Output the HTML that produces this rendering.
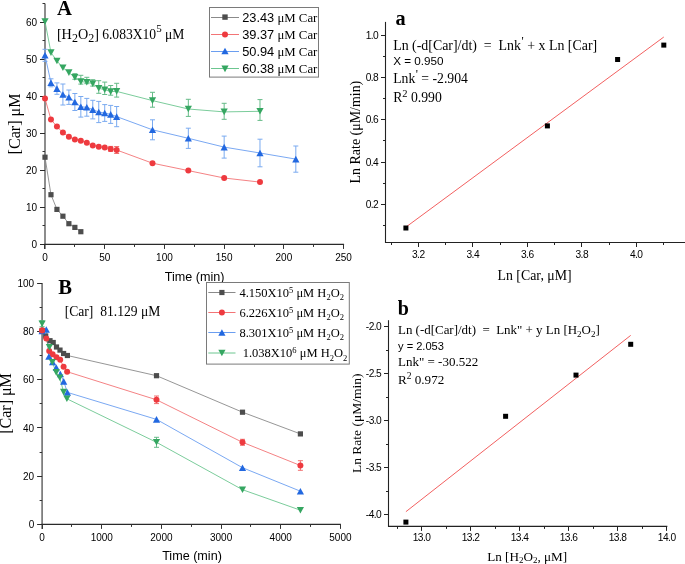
<!DOCTYPE html>
<html><head><meta charset="utf-8"><style>
html,body{margin:0;padding:0;background:#fff;}
body{width:685px;height:564px;overflow:hidden;}
svg{display:block;will-change:transform;}
</style></head><body>
<svg width="685" height="564" viewBox="0 0 685 564">
<rect width="685" height="564" fill="#fff"/>
<line x1="45.00" y1="3.56" x2="45.00" y2="248.95" stroke="#707070" stroke-width="1.6" />
<line x1="44.30" y1="244.45" x2="344.10" y2="244.45" stroke="#2a2a2a" stroke-width="1.2" />
<line x1="40.00" y1="244.50" x2="45.00" y2="244.50" stroke="#2a2a2a" stroke-width="1" />
<text x="37.00" y="248.05" font-size="10" font-family="'Liberation Sans', sans-serif" text-anchor="end" >0</text>
<line x1="40.00" y1="207.50" x2="45.00" y2="207.50" stroke="#2a2a2a" stroke-width="1" />
<text x="37.00" y="210.99" font-size="10" font-family="'Liberation Sans', sans-serif" text-anchor="end" >10</text>
<line x1="40.00" y1="170.50" x2="45.00" y2="170.50" stroke="#2a2a2a" stroke-width="1" />
<text x="37.00" y="173.93" font-size="10" font-family="'Liberation Sans', sans-serif" text-anchor="end" >20</text>
<line x1="40.00" y1="133.50" x2="45.00" y2="133.50" stroke="#2a2a2a" stroke-width="1" />
<text x="37.00" y="136.87" font-size="10" font-family="'Liberation Sans', sans-serif" text-anchor="end" >30</text>
<line x1="40.00" y1="96.50" x2="45.00" y2="96.50" stroke="#2a2a2a" stroke-width="1" />
<text x="37.00" y="99.81" font-size="10" font-family="'Liberation Sans', sans-serif" text-anchor="end" >40</text>
<line x1="40.00" y1="59.50" x2="45.00" y2="59.50" stroke="#2a2a2a" stroke-width="1" />
<text x="37.00" y="62.75" font-size="10" font-family="'Liberation Sans', sans-serif" text-anchor="end" >50</text>
<line x1="40.00" y1="22.50" x2="45.00" y2="22.50" stroke="#2a2a2a" stroke-width="1" />
<text x="37.00" y="25.69" font-size="10" font-family="'Liberation Sans', sans-serif" text-anchor="end" >60</text>
<line x1="42.50" y1="225.50" x2="45.00" y2="225.50" stroke="#333" stroke-width="1" />
<line x1="42.50" y1="188.50" x2="45.00" y2="188.50" stroke="#333" stroke-width="1" />
<line x1="42.50" y1="151.50" x2="45.00" y2="151.50" stroke="#333" stroke-width="1" />
<line x1="42.50" y1="114.50" x2="45.00" y2="114.50" stroke="#333" stroke-width="1" />
<line x1="42.50" y1="77.50" x2="45.00" y2="77.50" stroke="#333" stroke-width="1" />
<line x1="42.50" y1="40.50" x2="45.00" y2="40.50" stroke="#333" stroke-width="1" />
<line x1="42.50" y1="3.50" x2="45.00" y2="3.50" stroke="#333" stroke-width="1" />
<line x1="44.50" y1="244.45" x2="44.50" y2="248.95" stroke="#333" stroke-width="1" />
<text x="45.00" y="261.20" font-size="10" font-family="'Liberation Sans', sans-serif" text-anchor="middle" >0</text>
<line x1="104.50" y1="244.45" x2="104.50" y2="248.95" stroke="#333" stroke-width="1" />
<text x="104.72" y="261.20" font-size="10" font-family="'Liberation Sans', sans-serif" text-anchor="middle" >50</text>
<line x1="164.50" y1="244.45" x2="164.50" y2="248.95" stroke="#333" stroke-width="1" />
<text x="164.44" y="261.20" font-size="10" font-family="'Liberation Sans', sans-serif" text-anchor="middle" >100</text>
<line x1="224.50" y1="244.45" x2="224.50" y2="248.95" stroke="#333" stroke-width="1" />
<text x="224.16" y="261.20" font-size="10" font-family="'Liberation Sans', sans-serif" text-anchor="middle" >150</text>
<line x1="283.50" y1="244.45" x2="283.50" y2="248.95" stroke="#333" stroke-width="1" />
<text x="283.88" y="261.20" font-size="10" font-family="'Liberation Sans', sans-serif" text-anchor="middle" >200</text>
<line x1="343.50" y1="244.45" x2="343.50" y2="248.95" stroke="#333" stroke-width="1" />
<text x="343.60" y="261.20" font-size="10" font-family="'Liberation Sans', sans-serif" text-anchor="middle" >250</text>
<line x1="74.50" y1="244.45" x2="74.50" y2="246.95" stroke="#333" stroke-width="1" />
<line x1="134.50" y1="244.45" x2="134.50" y2="246.95" stroke="#333" stroke-width="1" />
<line x1="194.50" y1="244.45" x2="194.50" y2="246.95" stroke="#333" stroke-width="1" />
<line x1="254.50" y1="244.45" x2="254.50" y2="246.95" stroke="#333" stroke-width="1" />
<line x1="313.50" y1="244.45" x2="313.50" y2="246.95" stroke="#333" stroke-width="1" />
<line x1="45.00" y1="49.30" x2="45.00" y2="61.30" stroke="#7aaaf0" stroke-width="1" />
<line x1="42.50" y1="49.30" x2="47.50" y2="49.30" stroke="#7aaaf0" stroke-width="1" />
<line x1="42.50" y1="61.30" x2="47.50" y2="61.30" stroke="#7aaaf0" stroke-width="1" />
<line x1="50.97" y1="78.80" x2="50.97" y2="86.80" stroke="#7aaaf0" stroke-width="1" />
<line x1="48.47" y1="78.80" x2="53.47" y2="78.80" stroke="#7aaaf0" stroke-width="1" />
<line x1="48.47" y1="86.80" x2="53.47" y2="86.80" stroke="#7aaaf0" stroke-width="1" />
<line x1="56.94" y1="82.90" x2="56.94" y2="94.30" stroke="#7aaaf0" stroke-width="1" />
<line x1="54.44" y1="82.90" x2="59.44" y2="82.90" stroke="#7aaaf0" stroke-width="1" />
<line x1="54.44" y1="94.30" x2="59.44" y2="94.30" stroke="#7aaaf0" stroke-width="1" />
<line x1="62.92" y1="84.00" x2="62.92" y2="105.00" stroke="#7aaaf0" stroke-width="1" />
<line x1="60.42" y1="84.00" x2="65.42" y2="84.00" stroke="#7aaaf0" stroke-width="1" />
<line x1="60.42" y1="105.00" x2="65.42" y2="105.00" stroke="#7aaaf0" stroke-width="1" />
<line x1="68.89" y1="90.00" x2="68.89" y2="104.40" stroke="#7aaaf0" stroke-width="1" />
<line x1="66.39" y1="90.00" x2="71.39" y2="90.00" stroke="#7aaaf0" stroke-width="1" />
<line x1="66.39" y1="104.40" x2="71.39" y2="104.40" stroke="#7aaaf0" stroke-width="1" />
<line x1="74.86" y1="93.50" x2="74.86" y2="110.50" stroke="#7aaaf0" stroke-width="1" />
<line x1="72.36" y1="93.50" x2="77.36" y2="93.50" stroke="#7aaaf0" stroke-width="1" />
<line x1="72.36" y1="110.50" x2="77.36" y2="110.50" stroke="#7aaaf0" stroke-width="1" />
<line x1="80.83" y1="96.50" x2="80.83" y2="117.10" stroke="#7aaaf0" stroke-width="1" />
<line x1="78.33" y1="96.50" x2="83.33" y2="96.50" stroke="#7aaaf0" stroke-width="1" />
<line x1="78.33" y1="117.10" x2="83.33" y2="117.10" stroke="#7aaaf0" stroke-width="1" />
<line x1="86.80" y1="98.40" x2="86.80" y2="116.20" stroke="#7aaaf0" stroke-width="1" />
<line x1="84.30" y1="98.40" x2="89.30" y2="98.40" stroke="#7aaaf0" stroke-width="1" />
<line x1="84.30" y1="116.20" x2="89.30" y2="116.20" stroke="#7aaaf0" stroke-width="1" />
<line x1="92.78" y1="100.30" x2="92.78" y2="118.90" stroke="#7aaaf0" stroke-width="1" />
<line x1="90.28" y1="100.30" x2="95.28" y2="100.30" stroke="#7aaaf0" stroke-width="1" />
<line x1="90.28" y1="118.90" x2="95.28" y2="118.90" stroke="#7aaaf0" stroke-width="1" />
<line x1="98.75" y1="101.40" x2="98.75" y2="122.60" stroke="#7aaaf0" stroke-width="1" />
<line x1="96.25" y1="101.40" x2="101.25" y2="101.40" stroke="#7aaaf0" stroke-width="1" />
<line x1="96.25" y1="122.60" x2="101.25" y2="122.60" stroke="#7aaaf0" stroke-width="1" />
<line x1="104.72" y1="104.60" x2="104.72" y2="121.40" stroke="#7aaaf0" stroke-width="1" />
<line x1="102.22" y1="104.60" x2="107.22" y2="104.60" stroke="#7aaaf0" stroke-width="1" />
<line x1="102.22" y1="121.40" x2="107.22" y2="121.40" stroke="#7aaaf0" stroke-width="1" />
<line x1="110.69" y1="105.40" x2="110.69" y2="123.40" stroke="#7aaaf0" stroke-width="1" />
<line x1="108.19" y1="105.40" x2="113.19" y2="105.40" stroke="#7aaaf0" stroke-width="1" />
<line x1="108.19" y1="123.40" x2="113.19" y2="123.40" stroke="#7aaaf0" stroke-width="1" />
<line x1="116.66" y1="106.50" x2="116.66" y2="126.70" stroke="#7aaaf0" stroke-width="1" />
<line x1="114.16" y1="106.50" x2="119.16" y2="106.50" stroke="#7aaaf0" stroke-width="1" />
<line x1="114.16" y1="126.70" x2="119.16" y2="126.70" stroke="#7aaaf0" stroke-width="1" />
<line x1="152.50" y1="119.80" x2="152.50" y2="139.80" stroke="#7aaaf0" stroke-width="1" />
<line x1="150.00" y1="119.80" x2="155.00" y2="119.80" stroke="#7aaaf0" stroke-width="1" />
<line x1="150.00" y1="139.80" x2="155.00" y2="139.80" stroke="#7aaaf0" stroke-width="1" />
<line x1="188.33" y1="128.20" x2="188.33" y2="148.40" stroke="#7aaaf0" stroke-width="1" />
<line x1="185.83" y1="128.20" x2="190.83" y2="128.20" stroke="#7aaaf0" stroke-width="1" />
<line x1="185.83" y1="148.40" x2="190.83" y2="148.40" stroke="#7aaaf0" stroke-width="1" />
<line x1="224.16" y1="136.10" x2="224.16" y2="158.10" stroke="#7aaaf0" stroke-width="1" />
<line x1="221.66" y1="136.10" x2="226.66" y2="136.10" stroke="#7aaaf0" stroke-width="1" />
<line x1="221.66" y1="158.10" x2="226.66" y2="158.10" stroke="#7aaaf0" stroke-width="1" />
<line x1="259.99" y1="139.20" x2="259.99" y2="166.80" stroke="#7aaaf0" stroke-width="1" />
<line x1="257.49" y1="139.20" x2="262.49" y2="139.20" stroke="#7aaaf0" stroke-width="1" />
<line x1="257.49" y1="166.80" x2="262.49" y2="166.80" stroke="#7aaaf0" stroke-width="1" />
<line x1="295.82" y1="146.00" x2="295.82" y2="172.20" stroke="#7aaaf0" stroke-width="1" />
<line x1="293.32" y1="146.00" x2="298.32" y2="146.00" stroke="#7aaaf0" stroke-width="1" />
<line x1="293.32" y1="172.20" x2="298.32" y2="172.20" stroke="#7aaaf0" stroke-width="1" />
<line x1="74.86" y1="73.65" x2="74.86" y2="79.30" stroke="#66bb88" stroke-width="1" />
<line x1="72.36" y1="73.65" x2="77.36" y2="73.65" stroke="#66bb88" stroke-width="1" />
<line x1="72.36" y1="79.30" x2="77.36" y2="79.30" stroke="#66bb88" stroke-width="1" />
<line x1="80.83" y1="75.30" x2="80.83" y2="84.10" stroke="#66bb88" stroke-width="1" />
<line x1="78.33" y1="75.30" x2="83.33" y2="75.30" stroke="#66bb88" stroke-width="1" />
<line x1="78.33" y1="84.10" x2="83.33" y2="84.10" stroke="#66bb88" stroke-width="1" />
<line x1="86.80" y1="77.30" x2="86.80" y2="83.70" stroke="#66bb88" stroke-width="1" />
<line x1="84.30" y1="77.30" x2="89.30" y2="77.30" stroke="#66bb88" stroke-width="1" />
<line x1="84.30" y1="83.70" x2="89.30" y2="83.70" stroke="#66bb88" stroke-width="1" />
<line x1="92.78" y1="79.70" x2="92.78" y2="86.10" stroke="#66bb88" stroke-width="1" />
<line x1="90.28" y1="79.70" x2="95.28" y2="79.70" stroke="#66bb88" stroke-width="1" />
<line x1="90.28" y1="86.10" x2="95.28" y2="86.10" stroke="#66bb88" stroke-width="1" />
<line x1="98.75" y1="80.70" x2="98.75" y2="93.30" stroke="#66bb88" stroke-width="1" />
<line x1="96.25" y1="80.70" x2="101.25" y2="80.70" stroke="#66bb88" stroke-width="1" />
<line x1="96.25" y1="93.30" x2="101.25" y2="93.30" stroke="#66bb88" stroke-width="1" />
<line x1="104.72" y1="82.10" x2="104.72" y2="94.50" stroke="#66bb88" stroke-width="1" />
<line x1="102.22" y1="82.10" x2="107.22" y2="82.10" stroke="#66bb88" stroke-width="1" />
<line x1="102.22" y1="94.50" x2="107.22" y2="94.50" stroke="#66bb88" stroke-width="1" />
<line x1="110.69" y1="85.50" x2="110.69" y2="95.20" stroke="#66bb88" stroke-width="1" />
<line x1="108.19" y1="85.50" x2="113.19" y2="85.50" stroke="#66bb88" stroke-width="1" />
<line x1="108.19" y1="95.20" x2="113.19" y2="95.20" stroke="#66bb88" stroke-width="1" />
<line x1="116.66" y1="83.30" x2="116.66" y2="97.10" stroke="#66bb88" stroke-width="1" />
<line x1="114.16" y1="83.30" x2="119.16" y2="83.30" stroke="#66bb88" stroke-width="1" />
<line x1="114.16" y1="97.10" x2="119.16" y2="97.10" stroke="#66bb88" stroke-width="1" />
<line x1="152.50" y1="92.30" x2="152.50" y2="107.20" stroke="#66bb88" stroke-width="1" />
<line x1="150.00" y1="92.30" x2="155.00" y2="92.30" stroke="#66bb88" stroke-width="1" />
<line x1="150.00" y1="107.20" x2="155.00" y2="107.20" stroke="#66bb88" stroke-width="1" />
<line x1="188.33" y1="99.30" x2="188.33" y2="116.40" stroke="#66bb88" stroke-width="1" />
<line x1="185.83" y1="99.30" x2="190.83" y2="99.30" stroke="#66bb88" stroke-width="1" />
<line x1="185.83" y1="116.40" x2="190.83" y2="116.40" stroke="#66bb88" stroke-width="1" />
<line x1="224.16" y1="103.30" x2="224.16" y2="119.30" stroke="#66bb88" stroke-width="1" />
<line x1="221.66" y1="103.30" x2="226.66" y2="103.30" stroke="#66bb88" stroke-width="1" />
<line x1="221.66" y1="119.30" x2="226.66" y2="119.30" stroke="#66bb88" stroke-width="1" />
<line x1="259.99" y1="99.60" x2="259.99" y2="120.40" stroke="#66bb88" stroke-width="1" />
<line x1="257.49" y1="99.60" x2="262.49" y2="99.60" stroke="#66bb88" stroke-width="1" />
<line x1="257.49" y1="120.40" x2="262.49" y2="120.40" stroke="#66bb88" stroke-width="1" />
<line x1="110.69" y1="146.40" x2="110.69" y2="151.40" stroke="#f07070" stroke-width="1" />
<line x1="108.19" y1="146.40" x2="113.19" y2="146.40" stroke="#f07070" stroke-width="1" />
<line x1="108.19" y1="151.40" x2="113.19" y2="151.40" stroke="#f07070" stroke-width="1" />
<line x1="116.66" y1="146.50" x2="116.66" y2="153.50" stroke="#f07070" stroke-width="1" />
<line x1="114.16" y1="146.50" x2="119.16" y2="146.50" stroke="#f07070" stroke-width="1" />
<line x1="114.16" y1="153.50" x2="119.16" y2="153.50" stroke="#f07070" stroke-width="1" />
<polyline points="45.00,157.20 50.97,194.70 56.94,209.40 62.92,216.20 68.89,223.70 74.86,227.40 80.83,231.70" fill="none" stroke="#8a8a8a" stroke-width="0.9"/>
<polyline points="45.00,98.50 50.97,119.50 56.94,126.60 62.92,132.60 68.89,136.80 74.86,139.40 80.83,140.80 86.80,142.80 92.78,145.40 98.75,146.80 104.72,147.50 110.69,148.90 116.66,150.00 152.50,163.20 188.33,170.60 224.16,178.00 259.99,182.10" fill="none" stroke="#f37476" stroke-width="0.9"/>
<polyline points="45.00,55.30 50.97,82.80 56.94,88.60 62.92,94.50 68.89,97.20 74.86,102.00 80.83,106.80 86.80,107.30 92.78,109.60 98.75,112.00 104.72,113.00 110.69,114.40 116.66,116.60 152.50,129.80 188.33,138.30 224.16,147.10 259.99,153.00 295.82,159.10" fill="none" stroke="#6b9ef0" stroke-width="0.9"/>
<polyline points="45.00,21.50 50.97,52.60 56.94,60.95 62.92,67.70 68.89,72.60 74.86,77.40 80.83,81.60 86.80,82.30 92.78,83.60 98.75,88.30 104.72,89.70 110.69,91.60 116.66,91.40 152.50,100.60 188.33,109.00 224.16,111.90 259.99,111.30" fill="none" stroke="#6cc690" stroke-width="0.9"/>
<rect x="42.40" y="154.60" width="5.2" height="5.2" fill="#4d4d4d"/>
<rect x="48.37" y="192.10" width="5.2" height="5.2" fill="#4d4d4d"/>
<rect x="54.34" y="206.80" width="5.2" height="5.2" fill="#4d4d4d"/>
<rect x="60.32" y="213.60" width="5.2" height="5.2" fill="#4d4d4d"/>
<rect x="66.29" y="221.10" width="5.2" height="5.2" fill="#4d4d4d"/>
<rect x="72.26" y="224.80" width="5.2" height="5.2" fill="#4d4d4d"/>
<rect x="78.23" y="229.10" width="5.2" height="5.2" fill="#4d4d4d"/>
<circle cx="45.00" cy="98.50" r="3" fill="#ee3a3f"/>
<circle cx="50.97" cy="119.50" r="3" fill="#ee3a3f"/>
<circle cx="56.94" cy="126.60" r="3" fill="#ee3a3f"/>
<circle cx="62.92" cy="132.60" r="3" fill="#ee3a3f"/>
<circle cx="68.89" cy="136.80" r="3" fill="#ee3a3f"/>
<circle cx="74.86" cy="139.40" r="3" fill="#ee3a3f"/>
<circle cx="80.83" cy="140.80" r="3" fill="#ee3a3f"/>
<circle cx="86.80" cy="142.80" r="3" fill="#ee3a3f"/>
<circle cx="92.78" cy="145.40" r="3" fill="#ee3a3f"/>
<circle cx="98.75" cy="146.80" r="3" fill="#ee3a3f"/>
<circle cx="104.72" cy="147.50" r="3" fill="#ee3a3f"/>
<circle cx="110.69" cy="148.90" r="3" fill="#ee3a3f"/>
<circle cx="116.66" cy="150.00" r="3" fill="#ee3a3f"/>
<circle cx="152.50" cy="163.20" r="3" fill="#ee3a3f"/>
<circle cx="188.33" cy="170.60" r="3" fill="#ee3a3f"/>
<circle cx="224.16" cy="178.00" r="3" fill="#ee3a3f"/>
<circle cx="259.99" cy="182.10" r="3" fill="#ee3a3f"/>
<polygon points="41.40,58.60 48.60,58.60 45.00,52.00" fill="#2268e0"/>
<polygon points="47.37,86.10 54.57,86.10 50.97,79.50" fill="#2268e0"/>
<polygon points="53.34,91.90 60.54,91.90 56.94,85.30" fill="#2268e0"/>
<polygon points="59.32,97.80 66.52,97.80 62.92,91.20" fill="#2268e0"/>
<polygon points="65.29,100.50 72.49,100.50 68.89,93.90" fill="#2268e0"/>
<polygon points="71.26,105.30 78.46,105.30 74.86,98.70" fill="#2268e0"/>
<polygon points="77.23,110.10 84.43,110.10 80.83,103.50" fill="#2268e0"/>
<polygon points="83.20,110.60 90.40,110.60 86.80,104.00" fill="#2268e0"/>
<polygon points="89.18,112.90 96.38,112.90 92.78,106.30" fill="#2268e0"/>
<polygon points="95.15,115.30 102.35,115.30 98.75,108.70" fill="#2268e0"/>
<polygon points="101.12,116.30 108.32,116.30 104.72,109.70" fill="#2268e0"/>
<polygon points="107.09,117.70 114.29,117.70 110.69,111.10" fill="#2268e0"/>
<polygon points="113.06,119.90 120.26,119.90 116.66,113.30" fill="#2268e0"/>
<polygon points="148.90,133.10 156.10,133.10 152.50,126.50" fill="#2268e0"/>
<polygon points="184.73,141.60 191.93,141.60 188.33,135.00" fill="#2268e0"/>
<polygon points="220.56,150.40 227.76,150.40 224.16,143.80" fill="#2268e0"/>
<polygon points="256.39,156.30 263.59,156.30 259.99,149.70" fill="#2268e0"/>
<polygon points="292.22,162.40 299.42,162.40 295.82,155.80" fill="#2268e0"/>
<polygon points="41.40,18.20 48.60,18.20 45.00,24.80" fill="#35a661"/>
<polygon points="47.37,49.30 54.57,49.30 50.97,55.90" fill="#35a661"/>
<polygon points="53.34,57.65 60.54,57.65 56.94,64.25" fill="#35a661"/>
<polygon points="59.32,64.40 66.52,64.40 62.92,71.00" fill="#35a661"/>
<polygon points="65.29,69.30 72.49,69.30 68.89,75.90" fill="#35a661"/>
<polygon points="71.26,74.10 78.46,74.10 74.86,80.70" fill="#35a661"/>
<polygon points="77.23,78.30 84.43,78.30 80.83,84.90" fill="#35a661"/>
<polygon points="83.20,79.00 90.40,79.00 86.80,85.60" fill="#35a661"/>
<polygon points="89.18,80.30 96.38,80.30 92.78,86.90" fill="#35a661"/>
<polygon points="95.15,85.00 102.35,85.00 98.75,91.60" fill="#35a661"/>
<polygon points="101.12,86.40 108.32,86.40 104.72,93.00" fill="#35a661"/>
<polygon points="107.09,88.30 114.29,88.30 110.69,94.90" fill="#35a661"/>
<polygon points="113.06,88.10 120.26,88.10 116.66,94.70" fill="#35a661"/>
<polygon points="148.90,97.30 156.10,97.30 152.50,103.90" fill="#35a661"/>
<polygon points="184.73,105.70 191.93,105.70 188.33,112.30" fill="#35a661"/>
<polygon points="220.56,108.60 227.76,108.60 224.16,115.20" fill="#35a661"/>
<polygon points="256.39,108.00 263.59,108.00 259.99,114.60" fill="#35a661"/>
<text x="194.70" y="280.50" font-size="12.6" font-family="'Liberation Sans', sans-serif" text-anchor="middle" >Time (min)</text>
<text transform="translate(19.6,124) rotate(-90)" font-size="16.1" font-family="'Liberation Serif', serif" text-anchor="middle">[Car] μM</text>
<text x="57.10" y="15.00" font-size="20.7" font-family="'Liberation Serif', serif" text-anchor="start" font-weight="bold">A</text>
<text x="56.9" y="39.2" font-size="14.2" font-family="'Liberation Serif', serif">[H<tspan font-size="12" dy="2.6">2</tspan><tspan dy="-2.6">O</tspan><tspan font-size="12" dy="2.6">2</tspan><tspan dy="-2.6">]</tspan><tspan dx="3.3" font-size="13.6" dy="-0.3">6.083X10</tspan><tspan font-size="11" dy="-7.3">5</tspan><tspan dy="7.3" font-size="13.6"> μM</tspan></text>
<rect x="209.5" y="7.5" width="109" height="69.6" fill="white" stroke="#7a7a7a" stroke-width="1"/>
<line x1="211.00" y1="17.50" x2="239.00" y2="17.50" stroke="#8a8a8a" stroke-width="1" />
<rect x="222.30" y="14.40" width="5.4" height="5.4" fill="#4d4d4d"/>
<text x="242.2" y="21.80" font-size="12.8" font-family="'Liberation Sans', sans-serif">23.43<tspan font-family="'Liberation Serif', serif"> μM Car</tspan></text>
<line x1="211.00" y1="34.50" x2="239.00" y2="34.50" stroke="#f37476" stroke-width="1" />
<circle cx="225.00" cy="34.50" r="3" fill="#ee3a3f"/>
<text x="242.2" y="38.80" font-size="12.8" font-family="'Liberation Sans', sans-serif">39.37<tspan font-family="'Liberation Serif', serif"> μM Car</tspan></text>
<line x1="211.00" y1="51.50" x2="239.00" y2="51.50" stroke="#6b9ef0" stroke-width="1" />
<polygon points="221.40,54.30 228.60,54.30 225.00,47.70" fill="#2268e0"/>
<text x="242.2" y="55.80" font-size="12.8" font-family="'Liberation Sans', sans-serif">50.94<tspan font-family="'Liberation Serif', serif"> μM Car</tspan></text>
<line x1="211.00" y1="68.50" x2="239.00" y2="68.50" stroke="#6cc690" stroke-width="1" />
<polygon points="221.40,65.60 228.60,65.60 225.00,72.20" fill="#35a661"/>
<text x="242.2" y="72.80" font-size="12.8" font-family="'Liberation Sans', sans-serif">60.38<tspan font-family="'Liberation Serif', serif"> μM Car</tspan></text>
<line x1="42.10" y1="283.10" x2="42.10" y2="528.90" stroke="#707070" stroke-width="1.6" />
<line x1="41.40" y1="524.40" x2="340.90" y2="524.40" stroke="#2a2a2a" stroke-width="1.2" />
<line x1="37.10" y1="524.50" x2="42.10" y2="524.50" stroke="#2a2a2a" stroke-width="1" />
<text x="34.20" y="528.20" font-size="10" font-family="'Liberation Sans', sans-serif" text-anchor="end" >0</text>
<line x1="37.10" y1="476.50" x2="42.10" y2="476.50" stroke="#2a2a2a" stroke-width="1" />
<text x="34.20" y="479.94" font-size="10" font-family="'Liberation Sans', sans-serif" text-anchor="end" >20</text>
<line x1="37.10" y1="427.50" x2="42.10" y2="427.50" stroke="#2a2a2a" stroke-width="1" />
<text x="34.20" y="431.68" font-size="10" font-family="'Liberation Sans', sans-serif" text-anchor="end" >40</text>
<line x1="37.10" y1="379.50" x2="42.10" y2="379.50" stroke="#2a2a2a" stroke-width="1" />
<text x="34.20" y="383.42" font-size="10" font-family="'Liberation Sans', sans-serif" text-anchor="end" >60</text>
<line x1="37.10" y1="331.50" x2="42.10" y2="331.50" stroke="#2a2a2a" stroke-width="1" />
<text x="34.20" y="335.16" font-size="10" font-family="'Liberation Sans', sans-serif" text-anchor="end" >80</text>
<line x1="37.10" y1="283.50" x2="42.10" y2="283.50" stroke="#2a2a2a" stroke-width="1" />
<text x="34.20" y="286.90" font-size="10" font-family="'Liberation Sans', sans-serif" text-anchor="end" >100</text>
<line x1="39.60" y1="500.50" x2="42.10" y2="500.50" stroke="#333" stroke-width="1" />
<line x1="39.60" y1="452.50" x2="42.10" y2="452.50" stroke="#333" stroke-width="1" />
<line x1="39.60" y1="403.50" x2="42.10" y2="403.50" stroke="#333" stroke-width="1" />
<line x1="39.60" y1="355.50" x2="42.10" y2="355.50" stroke="#333" stroke-width="1" />
<line x1="39.60" y1="307.50" x2="42.10" y2="307.50" stroke="#333" stroke-width="1" />
<line x1="42.50" y1="524.40" x2="42.50" y2="528.90" stroke="#333" stroke-width="1" />
<text x="42.10" y="540.60" font-size="10" font-family="'Liberation Sans', sans-serif" text-anchor="middle" >0</text>
<line x1="101.50" y1="524.40" x2="101.50" y2="528.90" stroke="#333" stroke-width="1" />
<text x="101.76" y="540.60" font-size="10" font-family="'Liberation Sans', sans-serif" text-anchor="middle" >1000</text>
<line x1="161.50" y1="524.40" x2="161.50" y2="528.90" stroke="#333" stroke-width="1" />
<text x="161.42" y="540.60" font-size="10" font-family="'Liberation Sans', sans-serif" text-anchor="middle" >2000</text>
<line x1="221.50" y1="524.40" x2="221.50" y2="528.90" stroke="#333" stroke-width="1" />
<text x="221.08" y="540.60" font-size="10" font-family="'Liberation Sans', sans-serif" text-anchor="middle" >3000</text>
<line x1="280.50" y1="524.40" x2="280.50" y2="528.90" stroke="#333" stroke-width="1" />
<text x="280.74" y="540.60" font-size="10" font-family="'Liberation Sans', sans-serif" text-anchor="middle" >4000</text>
<line x1="340.50" y1="524.40" x2="340.50" y2="528.90" stroke="#333" stroke-width="1" />
<text x="340.40" y="540.60" font-size="10" font-family="'Liberation Sans', sans-serif" text-anchor="middle" >5000</text>
<line x1="71.50" y1="524.40" x2="71.50" y2="526.90" stroke="#333" stroke-width="1" />
<line x1="131.50" y1="524.40" x2="131.50" y2="526.90" stroke="#333" stroke-width="1" />
<line x1="191.50" y1="524.40" x2="191.50" y2="526.90" stroke="#333" stroke-width="1" />
<line x1="250.50" y1="524.40" x2="250.50" y2="526.90" stroke="#333" stroke-width="1" />
<line x1="310.50" y1="524.40" x2="310.50" y2="526.90" stroke="#333" stroke-width="1" />
<line x1="42.10" y1="329.50" x2="42.10" y2="331.50" stroke="#f07070" stroke-width="1" />
<line x1="39.60" y1="329.50" x2="44.60" y2="329.50" stroke="#f07070" stroke-width="1" />
<line x1="39.60" y1="331.50" x2="44.60" y2="331.50" stroke="#f07070" stroke-width="1" />
<line x1="156.50" y1="396.00" x2="156.50" y2="403.60" stroke="#f07070" stroke-width="1" />
<line x1="154.00" y1="396.00" x2="159.00" y2="396.00" stroke="#f07070" stroke-width="1" />
<line x1="154.00" y1="403.60" x2="159.00" y2="403.60" stroke="#f07070" stroke-width="1" />
<line x1="242.50" y1="439.30" x2="242.50" y2="445.30" stroke="#f07070" stroke-width="1" />
<line x1="240.00" y1="439.30" x2="245.00" y2="439.30" stroke="#f07070" stroke-width="1" />
<line x1="240.00" y1="445.30" x2="245.00" y2="445.30" stroke="#f07070" stroke-width="1" />
<line x1="300.40" y1="460.70" x2="300.40" y2="470.30" stroke="#f07070" stroke-width="1" />
<line x1="297.90" y1="460.70" x2="302.90" y2="460.70" stroke="#f07070" stroke-width="1" />
<line x1="297.90" y1="470.30" x2="302.90" y2="470.30" stroke="#f07070" stroke-width="1" />
<line x1="42.10" y1="320.70" x2="42.10" y2="326.70" stroke="#66bb88" stroke-width="1" />
<line x1="39.60" y1="320.70" x2="44.60" y2="320.70" stroke="#66bb88" stroke-width="1" />
<line x1="39.60" y1="326.70" x2="44.60" y2="326.70" stroke="#66bb88" stroke-width="1" />
<line x1="156.50" y1="437.30" x2="156.50" y2="447.30" stroke="#66bb88" stroke-width="1" />
<line x1="154.00" y1="437.30" x2="159.00" y2="437.30" stroke="#66bb88" stroke-width="1" />
<line x1="154.00" y1="447.30" x2="159.00" y2="447.30" stroke="#66bb88" stroke-width="1" />
<polyline points="42.10,330.50 45.70,336.00 50.00,340.70 53.20,342.50 56.50,347.00 60.00,350.10 63.60,353.50 67.40,355.50 156.50,375.70 242.50,412.20 300.40,433.90" fill="none" stroke="#8a8a8a" stroke-width="0.9"/>
<polyline points="42.10,330.50 46.30,338.50 49.20,351.00 52.60,354.20 56.50,357.20 60.20,359.70 63.60,366.70 67.10,371.70 156.50,399.80 242.50,442.30 300.40,465.50" fill="none" stroke="#f37476" stroke-width="0.9"/>
<polyline points="42.10,331.00 46.30,329.50 48.90,356.50 52.60,362.00 56.30,367.50 60.40,374.00 63.70,381.40 67.40,392.40 156.50,419.40 242.50,467.70 300.40,491.20" fill="none" stroke="#6b9ef0" stroke-width="0.9"/>
<polyline points="42.10,323.70 46.00,339.00 49.40,347.30 52.30,362.30 56.20,372.40 59.80,377.80 63.60,392.10 66.90,398.80 156.50,442.30 242.50,489.70 300.40,510.20" fill="none" stroke="#6cc690" stroke-width="0.9"/>
<rect x="39.50" y="327.90" width="5.2" height="5.2" fill="#4d4d4d"/>
<rect x="43.10" y="333.40" width="5.2" height="5.2" fill="#4d4d4d"/>
<rect x="47.40" y="338.10" width="5.2" height="5.2" fill="#4d4d4d"/>
<rect x="50.60" y="339.90" width="5.2" height="5.2" fill="#4d4d4d"/>
<rect x="53.90" y="344.40" width="5.2" height="5.2" fill="#4d4d4d"/>
<rect x="57.40" y="347.50" width="5.2" height="5.2" fill="#4d4d4d"/>
<rect x="61.00" y="350.90" width="5.2" height="5.2" fill="#4d4d4d"/>
<rect x="64.80" y="352.90" width="5.2" height="5.2" fill="#4d4d4d"/>
<rect x="153.90" y="373.10" width="5.2" height="5.2" fill="#4d4d4d"/>
<rect x="239.90" y="409.60" width="5.2" height="5.2" fill="#4d4d4d"/>
<rect x="297.80" y="431.30" width="5.2" height="5.2" fill="#4d4d4d"/>
<circle cx="42.10" cy="330.50" r="3" fill="#ee3a3f"/>
<circle cx="46.30" cy="338.50" r="3" fill="#ee3a3f"/>
<circle cx="49.20" cy="351.00" r="3" fill="#ee3a3f"/>
<circle cx="52.60" cy="354.20" r="3" fill="#ee3a3f"/>
<circle cx="56.50" cy="357.20" r="3" fill="#ee3a3f"/>
<circle cx="60.20" cy="359.70" r="3" fill="#ee3a3f"/>
<circle cx="63.60" cy="366.70" r="3" fill="#ee3a3f"/>
<circle cx="67.10" cy="371.70" r="3" fill="#ee3a3f"/>
<circle cx="156.50" cy="399.80" r="3" fill="#ee3a3f"/>
<circle cx="242.50" cy="442.30" r="3" fill="#ee3a3f"/>
<circle cx="300.40" cy="465.50" r="3" fill="#ee3a3f"/>
<polygon points="38.50,334.30 45.70,334.30 42.10,327.70" fill="#2268e0"/>
<polygon points="42.70,332.80 49.90,332.80 46.30,326.20" fill="#2268e0"/>
<polygon points="45.30,359.80 52.50,359.80 48.90,353.20" fill="#2268e0"/>
<polygon points="49.00,365.30 56.20,365.30 52.60,358.70" fill="#2268e0"/>
<polygon points="52.70,370.80 59.90,370.80 56.30,364.20" fill="#2268e0"/>
<polygon points="56.80,377.30 64.00,377.30 60.40,370.70" fill="#2268e0"/>
<polygon points="60.10,384.70 67.30,384.70 63.70,378.10" fill="#2268e0"/>
<polygon points="63.80,395.70 71.00,395.70 67.40,389.10" fill="#2268e0"/>
<polygon points="152.90,422.70 160.10,422.70 156.50,416.10" fill="#2268e0"/>
<polygon points="238.90,471.00 246.10,471.00 242.50,464.40" fill="#2268e0"/>
<polygon points="296.80,494.50 304.00,494.50 300.40,487.90" fill="#2268e0"/>
<polygon points="38.50,320.40 45.70,320.40 42.10,327.00" fill="#35a661"/>
<polygon points="45.80,344.00 53.00,344.00 49.40,350.60" fill="#35a661"/>
<polygon points="48.70,359.00 55.90,359.00 52.30,365.60" fill="#35a661"/>
<polygon points="52.60,369.10 59.80,369.10 56.20,375.70" fill="#35a661"/>
<polygon points="56.20,374.50 63.40,374.50 59.80,381.10" fill="#35a661"/>
<polygon points="60.00,388.80 67.20,388.80 63.60,395.40" fill="#35a661"/>
<polygon points="63.30,395.50 70.50,395.50 66.90,402.10" fill="#35a661"/>
<polygon points="152.90,439.00 160.10,439.00 156.50,445.60" fill="#35a661"/>
<polygon points="238.90,486.40 246.10,486.40 242.50,493.00" fill="#35a661"/>
<polygon points="296.80,506.90 304.00,506.90 300.40,513.50" fill="#35a661"/>
<circle cx="42.10" cy="330.50" r="3" fill="#ee3a3f"/>
<line x1="42.10" y1="329.50" x2="42.10" y2="331.50" stroke="#e04040" stroke-width="0.8" />
<line x1="39.60" y1="329.50" x2="44.60" y2="329.50" stroke="#e04040" stroke-width="0.8" />
<line x1="39.60" y1="331.50" x2="44.60" y2="331.50" stroke="#e04040" stroke-width="0.8" />
<text x="192.00" y="560.40" font-size="12.6" font-family="'Liberation Sans', sans-serif" text-anchor="middle" >Time (min)</text>
<text transform="translate(11.2,403.5) rotate(-90)" font-size="16.0" font-family="'Liberation Serif', serif" text-anchor="middle">[Car] μM</text>
<text x="58.30" y="294.10" font-size="20.6" font-family="'Liberation Serif', serif" text-anchor="start" font-weight="bold">B</text>
<text x="64.7" y="315.9" font-size="13.6" font-family="'Liberation Serif', serif" xml:space="preserve">[Car]  81.129 μM</text>
<rect x="206.5" y="282.5" width="142.8" height="81.6" fill="white" stroke="#7a7a7a" stroke-width="1"/>
<line x1="208.30" y1="292.50" x2="235.50" y2="292.50" stroke="#8a8a8a" stroke-width="1" />
<rect x="219.30" y="289.90" width="5.2" height="5.2" fill="#4d4d4d"/>
<text x="239.4" y="296.50" font-size="12.5" font-family="'Liberation Serif', serif">4.150X10<tspan font-size="8.5" dy="-4.0">5</tspan><tspan dy="4.0"> μM H</tspan><tspan font-size="8.5" dy="3.8">2</tspan><tspan dy="-3.8">O</tspan><tspan font-size="8.5" dy="3.8">2</tspan></text>
<line x1="208.30" y1="312.50" x2="235.50" y2="312.50" stroke="#f37476" stroke-width="1" />
<circle cx="221.90" cy="312.50" r="3" fill="#ee3a3f"/>
<text x="239.4" y="316.50" font-size="12.5" font-family="'Liberation Serif', serif">6.226X10<tspan font-size="8.5" dy="-4.0">5</tspan><tspan dy="4.0"> μM H</tspan><tspan font-size="8.5" dy="3.8">2</tspan><tspan dy="-3.8">O</tspan><tspan font-size="8.5" dy="3.8">2</tspan></text>
<line x1="208.30" y1="332.50" x2="235.50" y2="332.50" stroke="#6b9ef0" stroke-width="1" />
<polygon points="218.30,335.80 225.50,335.80 221.90,329.20" fill="#2268e0"/>
<text x="239.4" y="336.50" font-size="12.5" font-family="'Liberation Serif', serif">8.301X10<tspan font-size="8.5" dy="-4.0">5</tspan><tspan dy="4.0"> μM H</tspan><tspan font-size="8.5" dy="3.8">2</tspan><tspan dy="-3.8">O</tspan><tspan font-size="8.5" dy="3.8">2</tspan></text>
<line x1="208.30" y1="353.00" x2="235.50" y2="353.00" stroke="#6cc690" stroke-width="1" />
<polygon points="218.30,349.70 225.50,349.70 221.90,356.30" fill="#35a661"/>
<text x="242.7" y="357.00" font-size="12.5" font-family="'Liberation Serif', serif">1.038X10<tspan font-size="8.5" dy="-4.0">6</tspan><tspan dy="4.0"> μM H</tspan><tspan font-size="8.5" dy="3.8">2</tspan><tspan dy="-3.8">O</tspan><tspan font-size="8.5" dy="3.8">2</tspan></text>
<line x1="406.30" y1="226.80" x2="663.80" y2="37.00" stroke="#f26060" stroke-width="1" />
<rect x="403.40" y="225.50" width="5" height="5" fill="#000"/>
<rect x="544.90" y="123.40" width="5" height="5" fill="#000"/>
<rect x="615.10" y="57.00" width="5" height="5" fill="#000"/>
<rect x="661.30" y="42.60" width="5" height="5" fill="#000"/>
<line x1="385.50" y1="21.90" x2="385.50" y2="243.00" stroke="#222" stroke-width="1.1" />
<line x1="385.00" y1="242.50" x2="685.00" y2="242.50" stroke="#222" stroke-width="1.1" />
<line x1="381.00" y1="204.50" x2="385.50" y2="204.50" stroke="#222" stroke-width="1" />
<text x="378.30" y="207.78" font-size="10.2" font-family="'Liberation Sans', sans-serif" text-anchor="end" letter-spacing="-0.5">0.2</text>
<line x1="381.00" y1="162.50" x2="385.50" y2="162.50" stroke="#222" stroke-width="1" />
<text x="378.30" y="165.56" font-size="10.2" font-family="'Liberation Sans', sans-serif" text-anchor="end" letter-spacing="-0.5">0.4</text>
<line x1="381.00" y1="119.50" x2="385.50" y2="119.50" stroke="#222" stroke-width="1" />
<text x="378.30" y="123.34" font-size="10.2" font-family="'Liberation Sans', sans-serif" text-anchor="end" letter-spacing="-0.5">0.6</text>
<line x1="381.00" y1="77.50" x2="385.50" y2="77.50" stroke="#222" stroke-width="1" />
<text x="378.30" y="81.12" font-size="10.2" font-family="'Liberation Sans', sans-serif" text-anchor="end" letter-spacing="-0.5">0.8</text>
<line x1="381.00" y1="35.50" x2="385.50" y2="35.50" stroke="#222" stroke-width="1" />
<text x="378.30" y="38.90" font-size="10.2" font-family="'Liberation Sans', sans-serif" text-anchor="end" letter-spacing="-0.5">1.0</text>
<line x1="383.00" y1="225.50" x2="385.50" y2="225.50" stroke="#222" stroke-width="1" />
<line x1="383.00" y1="183.50" x2="385.50" y2="183.50" stroke="#222" stroke-width="1" />
<line x1="383.00" y1="140.50" x2="385.50" y2="140.50" stroke="#222" stroke-width="1" />
<line x1="383.00" y1="98.50" x2="385.50" y2="98.50" stroke="#222" stroke-width="1" />
<line x1="383.00" y1="56.50" x2="385.50" y2="56.50" stroke="#222" stroke-width="1" />
<line x1="418.50" y1="242.50" x2="418.50" y2="247.00" stroke="#222" stroke-width="1" />
<text x="418.30" y="258.10" font-size="10.2" font-family="'Liberation Sans', sans-serif" text-anchor="middle" letter-spacing="-0.5">3.2</text>
<line x1="472.50" y1="242.50" x2="472.50" y2="247.00" stroke="#222" stroke-width="1" />
<text x="472.78" y="258.10" font-size="10.2" font-family="'Liberation Sans', sans-serif" text-anchor="middle" letter-spacing="-0.5">3.4</text>
<line x1="527.50" y1="242.50" x2="527.50" y2="247.00" stroke="#222" stroke-width="1" />
<text x="527.26" y="258.10" font-size="10.2" font-family="'Liberation Sans', sans-serif" text-anchor="middle" letter-spacing="-0.5">3.6</text>
<line x1="581.50" y1="242.50" x2="581.50" y2="247.00" stroke="#222" stroke-width="1" />
<text x="581.74" y="258.10" font-size="10.2" font-family="'Liberation Sans', sans-serif" text-anchor="middle" letter-spacing="-0.5">3.8</text>
<line x1="636.50" y1="242.50" x2="636.50" y2="247.00" stroke="#222" stroke-width="1" />
<text x="636.22" y="258.10" font-size="10.2" font-family="'Liberation Sans', sans-serif" text-anchor="middle" letter-spacing="-0.5">4.0</text>
<line x1="391.50" y1="242.50" x2="391.50" y2="245.00" stroke="#222" stroke-width="1" />
<line x1="445.50" y1="242.50" x2="445.50" y2="245.00" stroke="#222" stroke-width="1" />
<line x1="500.50" y1="242.50" x2="500.50" y2="245.00" stroke="#222" stroke-width="1" />
<line x1="554.50" y1="242.50" x2="554.50" y2="245.00" stroke="#222" stroke-width="1" />
<line x1="609.50" y1="242.50" x2="609.50" y2="245.00" stroke="#222" stroke-width="1" />
<line x1="663.50" y1="242.50" x2="663.50" y2="245.00" stroke="#222" stroke-width="1" />
<text x="534.60" y="280.20" font-size="13.85" font-family="'Liberation Serif', serif" text-anchor="middle" >Ln [Car, μM]</text>
<text transform="translate(359.6,132.1) rotate(-90)" font-size="13.95" font-family="'Liberation Serif', serif" text-anchor="middle">Ln Rate (μM/min)</text>
<text x="395.60" y="24.90" font-size="20.3" font-family="'Liberation Serif', serif" text-anchor="start" font-weight="bold">a</text>
<text x="393.2" y="49.7" font-size="13.9" font-family="'Liberation Serif', serif" xml:space="preserve">Ln (-d[Car]/dt)  =  Lnk<tspan font-size="12" dy="-4.6" dx="0.6">'</tspan><tspan dy="4.6"> + x Ln [Car]</tspan></text>
<text x="393.20" y="64.70" font-size="11.7" font-family="'Liberation Sans', sans-serif" text-anchor="start" >X = 0.950</text>
<text x="393.2" y="82.8" font-size="13.7" font-family="'Liberation Serif', serif" xml:space="preserve">Lnk<tspan font-size="12" dy="-4.6" dx="0.5">'</tspan><tspan dy="4.6"> = -2.904</tspan></text>
<text x="393.2" y="102.1" font-size="13.7" font-family="'Liberation Serif', serif" xml:space="preserve">R<tspan font-size="10.5" dy="-5.6">2</tspan><tspan dy="5.6"> 0.990</tspan></text>
<line x1="405.90" y1="511.70" x2="630.70" y2="335.40" stroke="#f26060" stroke-width="1" />
<rect x="403.40" y="519.60" width="5" height="5" fill="#000"/>
<rect x="503.10" y="413.80" width="5" height="5" fill="#000"/>
<rect x="573.50" y="372.60" width="5" height="5" fill="#000"/>
<rect x="628.20" y="341.80" width="5" height="5" fill="#000"/>
<line x1="388.50" y1="320.20" x2="388.50" y2="526.90" stroke="#222" stroke-width="1.1" />
<line x1="388.00" y1="526.40" x2="667.35" y2="526.40" stroke="#222" stroke-width="1.1" />
<line x1="384.00" y1="326.50" x2="388.50" y2="326.50" stroke="#222" stroke-width="1" />
<text x="381.30" y="330.05" font-size="10.2" font-family="'Liberation Sans', sans-serif" text-anchor="end" letter-spacing="-0.5">-2.0</text>
<line x1="384.00" y1="373.50" x2="388.50" y2="373.50" stroke="#222" stroke-width="1" />
<text x="381.30" y="377.14" font-size="10.2" font-family="'Liberation Sans', sans-serif" text-anchor="end" letter-spacing="-0.5">-2.5</text>
<line x1="384.00" y1="420.50" x2="388.50" y2="420.50" stroke="#222" stroke-width="1" />
<text x="381.30" y="424.23" font-size="10.2" font-family="'Liberation Sans', sans-serif" text-anchor="end" letter-spacing="-0.5">-3.0</text>
<line x1="384.00" y1="467.50" x2="388.50" y2="467.50" stroke="#222" stroke-width="1" />
<text x="381.30" y="471.32" font-size="10.2" font-family="'Liberation Sans', sans-serif" text-anchor="end" letter-spacing="-0.5">-3.5</text>
<line x1="384.00" y1="514.50" x2="388.50" y2="514.50" stroke="#222" stroke-width="1" />
<text x="381.30" y="518.41" font-size="10.2" font-family="'Liberation Sans', sans-serif" text-anchor="end" letter-spacing="-0.5">-4.0</text>
<line x1="386.00" y1="350.50" x2="388.50" y2="350.50" stroke="#222" stroke-width="1" />
<line x1="386.00" y1="397.50" x2="388.50" y2="397.50" stroke="#222" stroke-width="1" />
<line x1="386.00" y1="444.50" x2="388.50" y2="444.50" stroke="#222" stroke-width="1" />
<line x1="386.00" y1="491.50" x2="388.50" y2="491.50" stroke="#222" stroke-width="1" />
<line x1="421.50" y1="526.40" x2="421.50" y2="530.90" stroke="#222" stroke-width="1" />
<text x="421.55" y="540.70" font-size="10.2" font-family="'Liberation Sans', sans-serif" text-anchor="middle" letter-spacing="-0.5">13.0</text>
<line x1="470.50" y1="526.40" x2="470.50" y2="530.90" stroke="#222" stroke-width="1" />
<text x="470.57" y="540.70" font-size="10.2" font-family="'Liberation Sans', sans-serif" text-anchor="middle" letter-spacing="-0.5">13.2</text>
<line x1="519.50" y1="526.40" x2="519.50" y2="530.90" stroke="#222" stroke-width="1" />
<text x="519.59" y="540.70" font-size="10.2" font-family="'Liberation Sans', sans-serif" text-anchor="middle" letter-spacing="-0.5">13.4</text>
<line x1="568.50" y1="526.40" x2="568.50" y2="530.90" stroke="#222" stroke-width="1" />
<text x="568.61" y="540.70" font-size="10.2" font-family="'Liberation Sans', sans-serif" text-anchor="middle" letter-spacing="-0.5">13.6</text>
<line x1="617.50" y1="526.40" x2="617.50" y2="530.90" stroke="#222" stroke-width="1" />
<text x="617.63" y="540.70" font-size="10.2" font-family="'Liberation Sans', sans-serif" text-anchor="middle" letter-spacing="-0.5">13.8</text>
<line x1="666.50" y1="526.40" x2="666.50" y2="530.90" stroke="#222" stroke-width="1" />
<text x="666.65" y="540.70" font-size="10.2" font-family="'Liberation Sans', sans-serif" text-anchor="middle" letter-spacing="-0.5">14.0</text>
<line x1="397.50" y1="526.40" x2="397.50" y2="528.90" stroke="#222" stroke-width="1" />
<line x1="446.50" y1="526.40" x2="446.50" y2="528.90" stroke="#222" stroke-width="1" />
<line x1="495.50" y1="526.40" x2="495.50" y2="528.90" stroke="#222" stroke-width="1" />
<line x1="544.50" y1="526.40" x2="544.50" y2="528.90" stroke="#222" stroke-width="1" />
<line x1="593.50" y1="526.40" x2="593.50" y2="528.90" stroke="#222" stroke-width="1" />
<line x1="642.50" y1="526.40" x2="642.50" y2="528.90" stroke="#222" stroke-width="1" />
<text x="527.1" y="560.5" font-size="13.15" font-family="'Liberation Serif', serif" text-anchor="middle">Ln [H<tspan font-size="9" dy="2.5">2</tspan><tspan dy="-2.5">O</tspan><tspan font-size="9" dy="2.5">2</tspan><tspan dy="-2.5">, μM]</tspan></text>
<text transform="translate(360.6,423.3) rotate(-90)" font-size="13.5" font-family="'Liberation Serif', serif" text-anchor="middle">Ln Rate (μM/min)</text>
<text x="397.80" y="314.50" font-size="20" font-family="'Liberation Serif', serif" text-anchor="start" font-weight="bold">b</text>
<text x="398" y="334.3" font-size="12.95" font-family="'Liberation Serif', serif" xml:space="preserve">Ln (-d[Car]/dt)  =  Lnk" + y Ln [H<tspan font-size="9" dy="2.7">2</tspan><tspan dy="-2.7">O</tspan><tspan font-size="9" dy="2.7">2</tspan><tspan dy="-2.7">]</tspan></text>
<text x="398.00" y="349.70" font-size="11.1" font-family="'Liberation Sans', sans-serif" text-anchor="start" >y = 2.053</text>
<text x="398" y="366.4" font-size="13.0" font-family="'Liberation Serif', serif">Lnk" = -30.522</text>
<text x="398" y="384" font-size="13.1" font-family="'Liberation Serif', serif" xml:space="preserve">R<tspan font-size="9.5" dy="-5.2">2</tspan><tspan dy="5.2"> 0.972</tspan></text>
</svg>
</body></html>
